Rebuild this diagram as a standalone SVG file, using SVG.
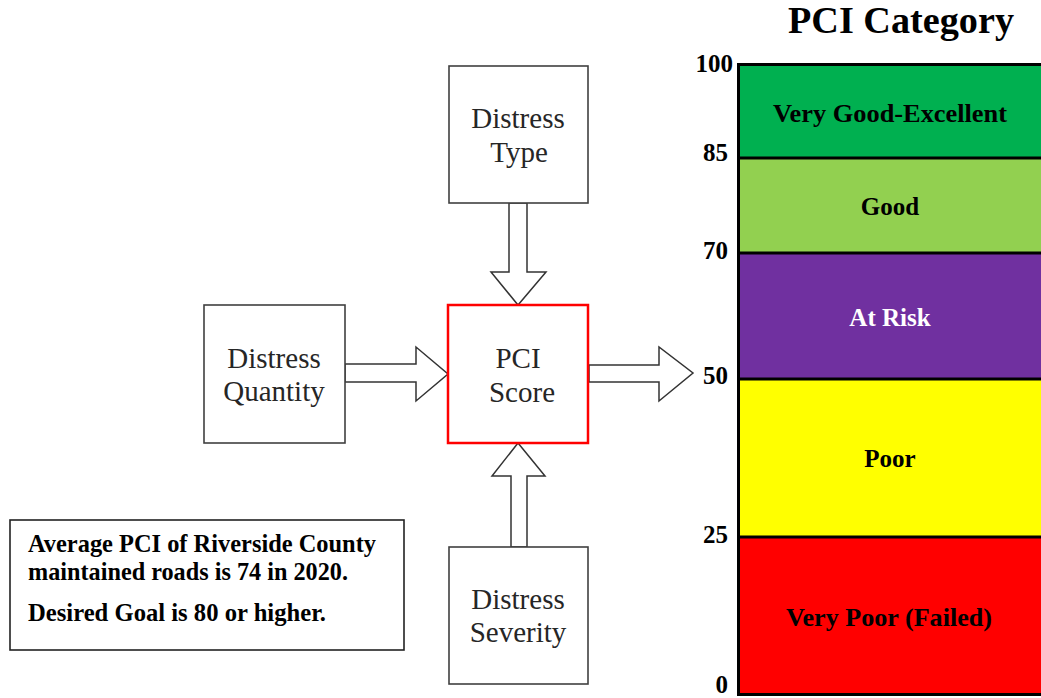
<svg xmlns="http://www.w3.org/2000/svg" width="1041" height="698" viewBox="0 0 1041 698">
<style>
.box{fill:#fff;stroke:#404040;stroke-width:1.6}
.pci{fill:#fff;stroke:#ff0000;stroke-width:2.5}
.arr{fill:#fff;stroke:#333;stroke-width:1.5;stroke-linejoin:miter}
.nt{font-family:"Liberation Serif","Times New Roman",serif;font-size:29px;fill:#262626;text-anchor:middle}
.b{font-family:"Liberation Serif","Times New Roman",serif;font-weight:bold;fill:#000}
.tick{font-size:25px;text-anchor:end}
.band{font-size:25px;text-anchor:middle}
.note{font-size:26px}
.div{stroke:#000;stroke-width:3}
</style>
<rect width="1041" height="698" fill="#fff"/>

<g id="connectors">
<polygon class="arr" points="509,203 527,203 527,272 546,272 518,305 491,272 509,272"/>
<polygon class="arr" points="345,364 416,364 416,347 448,374 416,401 416,382 345,382"/>
<polygon class="arr" points="589,365 659,365 659,347 693,373 659,401 659,382 589,382"/>
<polygon class="arr" points="511,547 511,476 492,476 518,443 545,476 527,476 527,547"/>
</g>

<g id="node-type">
<rect class="box" x="449" y="66" width="139" height="137"/>
<text class="nt" x="518" y="128">Distress</text>
<text class="nt" x="519" y="162">Type</text>
</g>
<g id="node-quantity">
<rect class="box" x="204" y="305" width="141" height="138"/>
<text class="nt" x="274" y="368">Distress</text>
<text class="nt" x="274" y="401">Quantity</text>
</g>
<g id="node-pci">
<rect class="pci" x="448" y="305" width="140" height="138"/>
<text class="nt" x="518" y="368">PCI</text>
<text class="nt" x="522" y="402">Score</text>
</g>
<g id="node-severity">
<rect class="box" x="449" y="547" width="139" height="137"/>
<text class="nt" x="518" y="609">Distress</text>
<text class="nt" x="518" y="642">Severity</text>
</g>

<g id="note">
<rect x="10" y="520" width="394" height="130" fill="#fff" stroke="#222" stroke-width="1.6"/>
<text class="b note" x="28" y="552" textLength="348" lengthAdjust="spacingAndGlyphs">Average PCI of Riverside County</text>
<text class="b note" x="28" y="580" textLength="320" lengthAdjust="spacingAndGlyphs">maintained roads is 74 in 2020.</text>
<text class="b note" x="28" y="621" textLength="298" lengthAdjust="spacingAndGlyphs">Desired Goal is 80 or higher.</text>
</g>

<g id="pci-chart">
<text class="b" x="901" y="33" font-size="37" text-anchor="middle" textLength="226" lengthAdjust="spacingAndGlyphs">PCI Category</text>
<rect x="737" y="63" width="310" height="95" fill="#00b050"/>
<rect x="737" y="158" width="310" height="95" fill="#92d050"/>
<rect x="737" y="253" width="310" height="126" fill="#7030a0"/>
<rect x="737" y="379" width="310" height="158" fill="#ffff00"/>
<rect x="737" y="537" width="310" height="158" fill="#ff0000"/>
<rect x="738.5" y="64.5" width="310" height="630" fill="none" stroke="#000" stroke-width="3"/>
<line class="div" x1="737" y1="158" x2="1041" y2="158"/>
<line class="div" x1="737" y1="253" x2="1041" y2="253"/>
<line class="div" x1="737" y1="379" x2="1041" y2="379"/>
<line class="div" x1="737" y1="537" x2="1041" y2="537"/>
<text class="b band" x="890" y="122" textLength="234" lengthAdjust="spacingAndGlyphs">Very  Good-Excellent</text>
<text class="b band" x="890" y="215">Good</text>
<text class="b band" x="890" y="326" fill="#fff" style="fill:#fff">At Risk</text>
<text class="b band" x="890" y="467">Poor</text>
<text class="b band" x="889" y="626" textLength="206" lengthAdjust="spacingAndGlyphs">Very Poor (Failed)</text>
<text class="b tick" x="733" y="72">100</text>
<text class="b tick" x="728" y="161">85</text>
<text class="b tick" x="728" y="259">70</text>
<text class="b tick" x="728" y="384">50</text>
<text class="b tick" x="728" y="543">25</text>
<text class="b tick" x="728" y="693">0</text>
</g>
</svg>
